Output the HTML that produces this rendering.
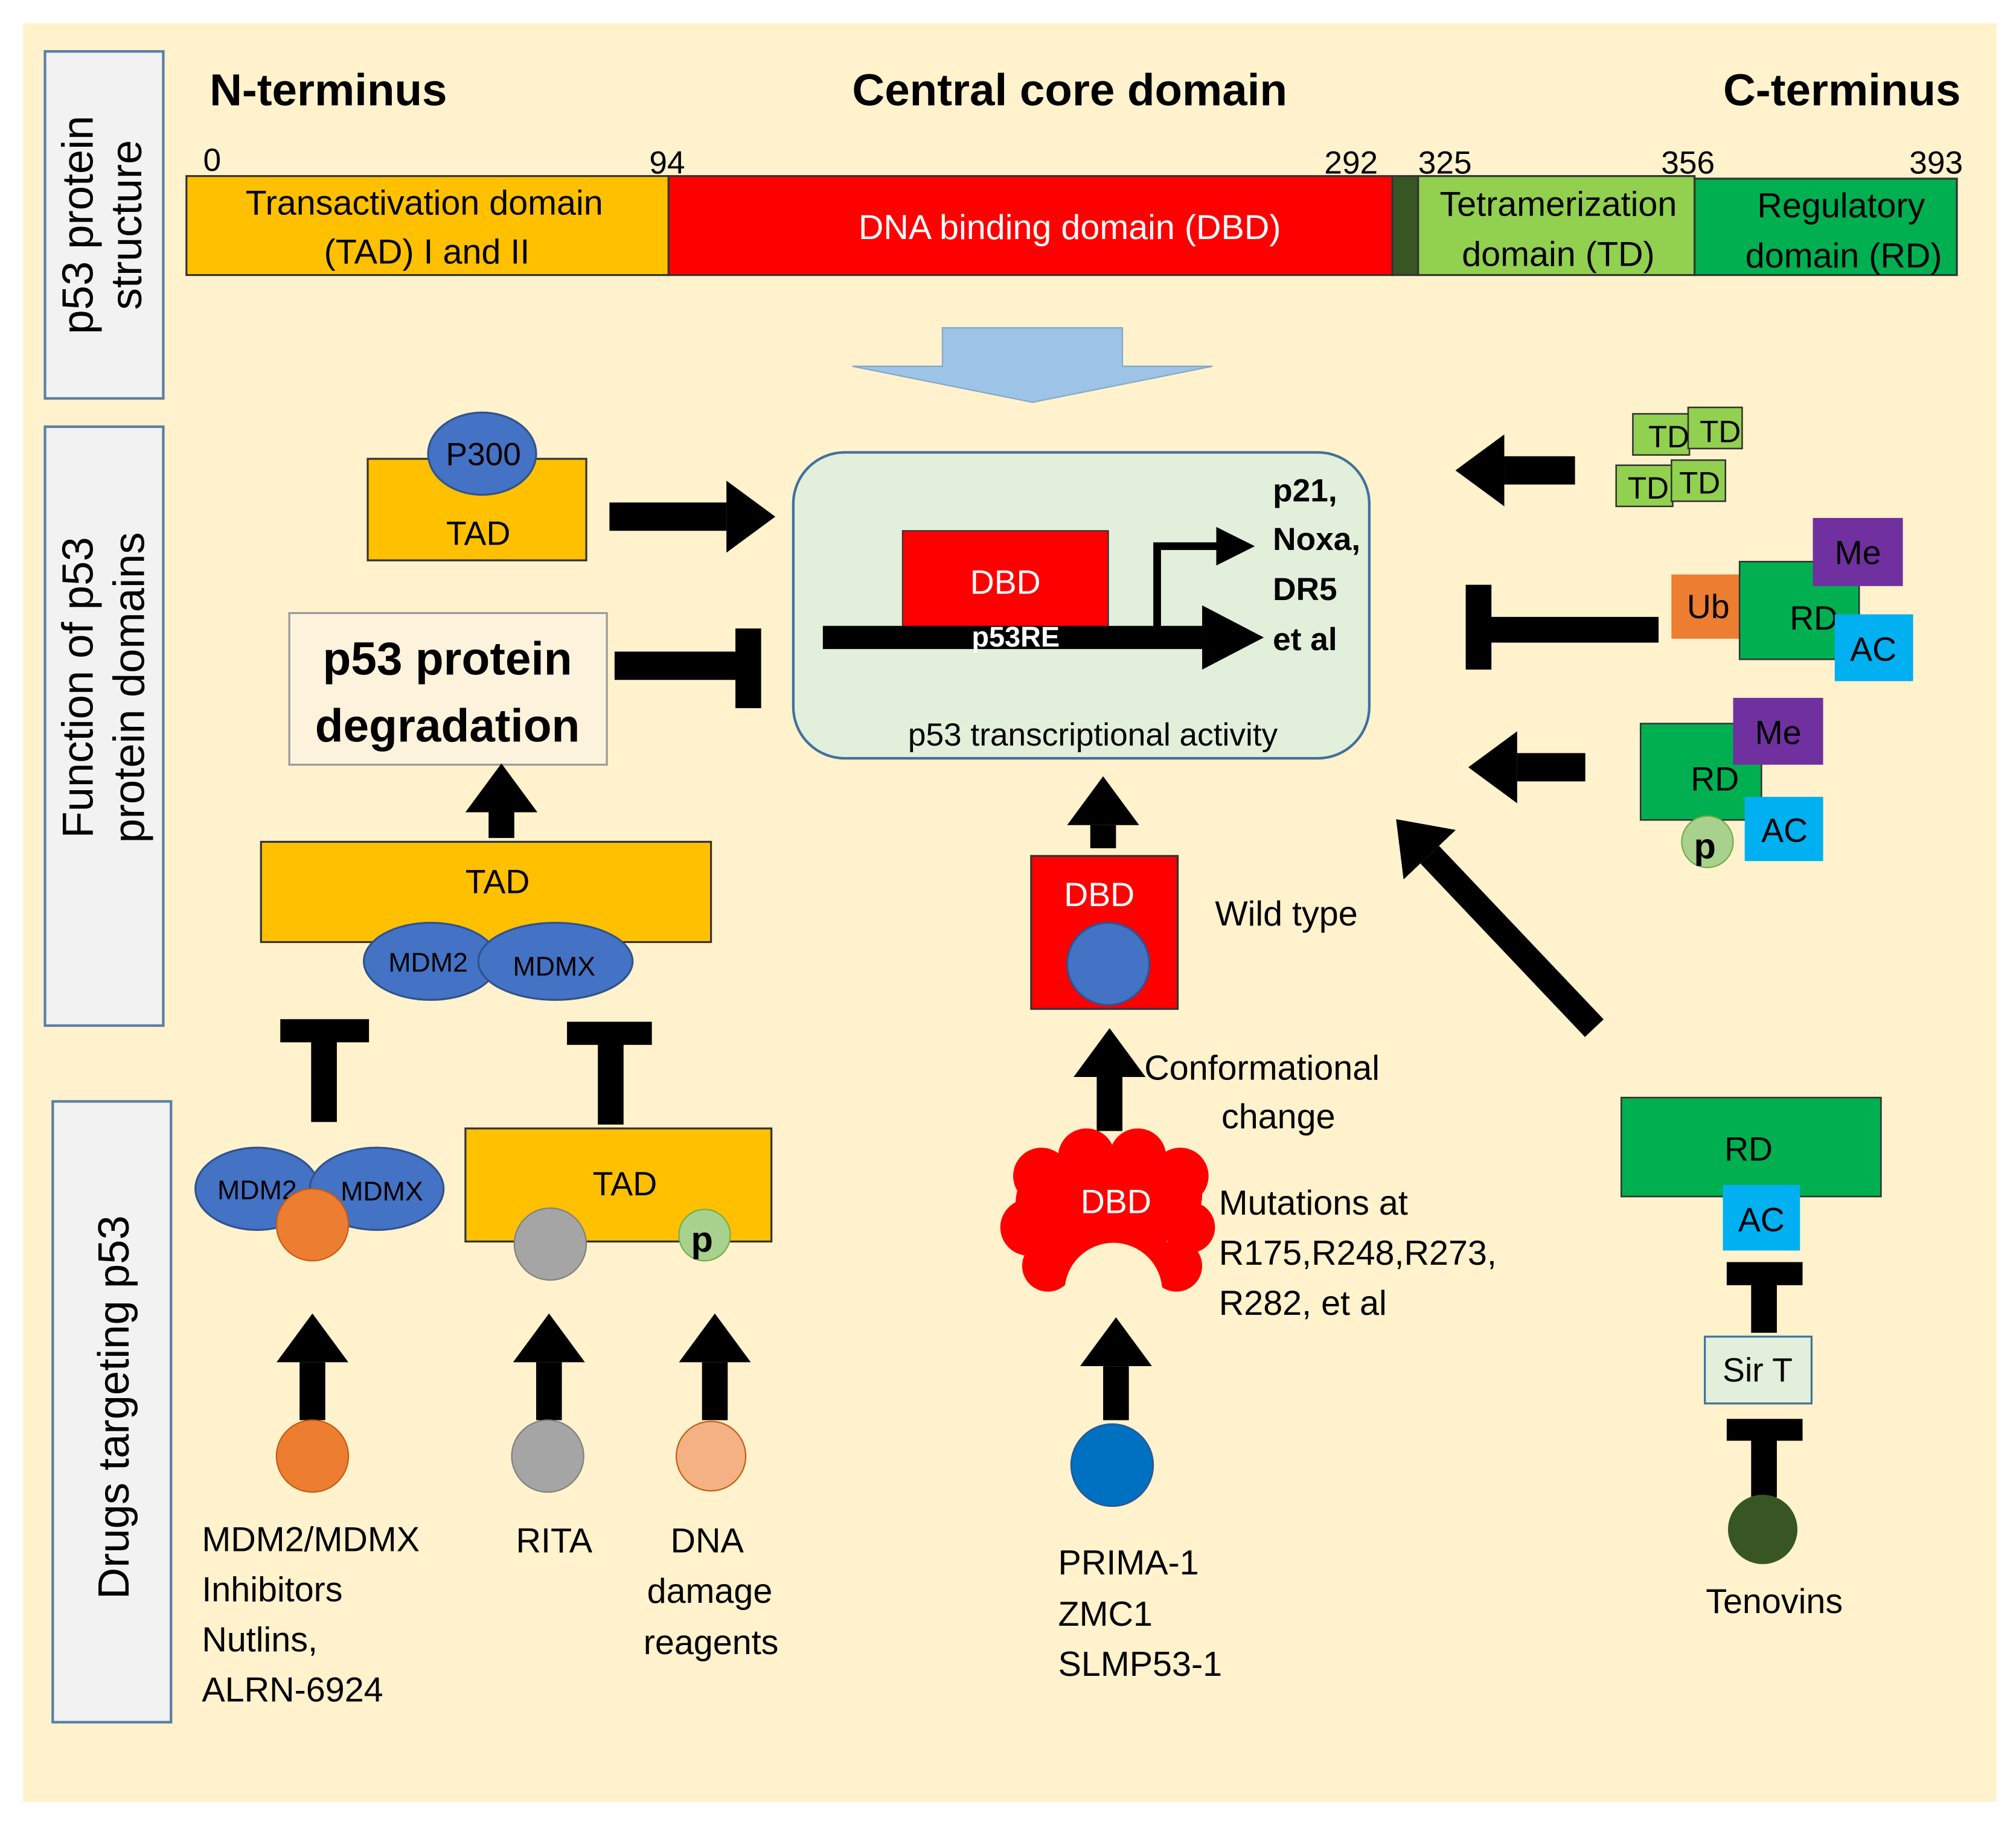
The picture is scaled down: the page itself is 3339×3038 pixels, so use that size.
<!DOCTYPE html>
<html><head><meta charset="utf-8"><style>
html,body{margin:0;padding:0;background:#fff}
svg{display:block}
text{font-family:"Liberation Sans",sans-serif;fill:#000}
</style></head><body>
<svg width="3339" height="3038" viewBox="0 0 1568 1427" preserveAspectRatio="none" xmlns="http://www.w3.org/2000/svg">
<defs>
<marker id="ah" markerUnits="userSpaceOnUse" markerWidth="40" markerHeight="56" refX="0" refY="28" orient="auto"><path d="M0,0 L38,28 L0,56 z" fill="#000"/></marker>
<marker id="ah2" markerUnits="userSpaceOnUse" markerWidth="50" markerHeight="50" refX="0" refY="25" orient="auto"><path d="M0,0 L48,25 L0,50 z" fill="#000"/></marker>
</defs>
<rect x="0" y="0" width="1568" height="1427" fill="#fff"/>
<rect x="18" y="18" width="1535" height="1384" fill="#fff2cc"/>

<!-- left labels -->
<rect x="35" y="40" width="92" height="270" fill="#f2f2f2" stroke="#5b7fa6" stroke-width="2"/>
<text transform="translate(72,175) rotate(-90)" text-anchor="middle" font-size="34">p53 protein</text>
<text transform="translate(110,175) rotate(-90)" text-anchor="middle" font-size="34">structure</text>
<rect x="35" y="332" width="92" height="466" fill="#f2f2f2" stroke="#5b7fa6" stroke-width="2"/>
<text transform="translate(72,535) rotate(-90)" text-anchor="middle" font-size="34">Function of p53</text>
<text transform="translate(112,535) rotate(-90)" text-anchor="middle" font-size="34">protein  domains</text>
<rect x="41" y="857" width="92" height="483" fill="#f2f2f2" stroke="#5b7fa6" stroke-width="2"/>
<text transform="translate(100,1095) rotate(-90)" text-anchor="middle" font-size="34">Drugs targeting p53</text>

<!-- header -->
<text x="163" y="82" font-size="35" font-weight="bold">N-terminus</text>
<text x="832" y="82" font-size="35" font-weight="bold" text-anchor="middle">Central core domain</text>
<text x="1525" y="82" font-size="35" font-weight="bold" text-anchor="end">C-terminus</text>
<g font-size="25">
<text x="158" y="133">0</text><text x="505" y="135">94</text><text x="1030" y="135">292</text>
<text x="1103" y="135">325</text><text x="1292" y="135">356</text><text x="1485" y="135">393</text>
</g>
<rect x="145" y="137" width="375" height="77" fill="#ffc000" stroke="#333" stroke-width="1.5"/>
<rect x="520" y="137" width="563" height="77" fill="#ff0000" stroke="#333" stroke-width="1.5"/>
<rect x="1083" y="137" width="20" height="77" fill="#375623" stroke="#333" stroke-width="1.5"/>
<rect x="1103" y="137" width="215" height="77" fill="#92d050" stroke="#333" stroke-width="1.5"/>
<rect x="1318" y="139" width="204" height="75" fill="#00b050" stroke="#333" stroke-width="1.5"/>
<g font-size="27" text-anchor="middle">
<text x="330" y="167">Transactivation domain</text><text x="332" y="205">(TAD) I and II</text>
<text x="832" y="186" style="fill:#fff">DNA binding domain (DBD)</text>
<text x="1212" y="168">Tetramerization</text><text x="1212" y="207">domain (TD)</text>
<text x="1432" y="169">Regulatory</text><text x="1434" y="208">domain (RD)</text>
</g>
<polygon points="733,255 873,255 873,285 943,285 803,313 663,285 733,285" fill="#9dc3e6" stroke="#7fa7cf" stroke-width="1"/>

<!-- central box -->
<rect x="617" y="352" width="448" height="238" rx="40" fill="#e2efda" stroke="#41719c" stroke-width="2"/>
<rect x="702" y="413" width="160" height="77" fill="#ff0000" stroke="#333" stroke-width="1"/>
<text x="782" y="462" font-size="26" text-anchor="middle" style="fill:#fff">DBD</text>
<line x1="640" y1="496" x2="935" y2="496" stroke="#000" stroke-width="18" marker-end="url(#ah2)"/>
<text x="790" y="503" font-size="22" font-weight="bold" text-anchor="middle" style="fill:#fff">p53RE</text>
<polyline points="900,490 900,425 948,425" fill="none" stroke="#000" stroke-width="6"/>
<polygon points="946,410 976,425 946,440" fill="#000"/>
<g font-size="25" font-weight="bold"><text x="990" y="390">p21,</text><text x="990" y="428">Noxa,</text><text x="990" y="467">DR5</text><text x="990" y="506">et al</text></g>
<text x="850" y="580" font-size="25" text-anchor="middle">p53 transcriptional  activity</text>

<!-- left upper -->
<rect x="286" y="357" width="170" height="79" fill="#ffc000" stroke="#333" stroke-width="1.5"/>
<ellipse cx="375" cy="353" rx="42" ry="32" fill="#4472c4" stroke="#2f528f" stroke-width="1.5"/>
<text x="376" y="362" font-size="25" text-anchor="middle">P300</text>
<text x="372" y="424" font-size="26" text-anchor="middle">TAD</text>
<line x1="474" y1="402" x2="565" y2="402" stroke="#000" stroke-width="22" marker-end="url(#ah)"/>
<rect x="225" y="477" width="247" height="118" fill="#fdf3dd" stroke="#999" stroke-width="1.5"/>
<text x="348" y="525" font-size="36" font-weight="bold" text-anchor="middle">p53 protein</text>
<text x="348" y="577" font-size="36" font-weight="bold" text-anchor="middle">degradation</text>
<line x1="478" y1="518" x2="575" y2="518" stroke="#000" stroke-width="22"/>
<rect x="572" y="489" width="20" height="62" fill="#000"/>
<line x1="390" y1="652" x2="390" y2="632" stroke="#000" stroke-width="20" marker-end="url(#ah)"/>
<rect x="203" y="655" width="350" height="78" fill="#ffc000" stroke="#333" stroke-width="1.5"/>
<text x="387" y="695" font-size="26" text-anchor="middle">TAD</text>
<ellipse cx="335" cy="748" rx="52" ry="30" fill="#4472c4" stroke="#2f528f" stroke-width="1.5"/>
<ellipse cx="432" cy="748" rx="60" ry="30" fill="#4472c4" stroke="#2f528f" stroke-width="1.5"/>
<text x="333" y="756" font-size="21" text-anchor="middle">MDM2</text>
<text x="431" y="759" font-size="21" text-anchor="middle">MDMX</text>

<!-- T bars -->
<rect x="218" y="793" width="69" height="18" fill="#000"/><rect x="242" y="810" width="20" height="63" fill="#000"/>
<rect x="441" y="795" width="66" height="18" fill="#000"/><rect x="465" y="812" width="20" height="63" fill="#000"/>

<ellipse cx="200" cy="925" rx="48" ry="32" fill="#4472c4" stroke="#2f528f" stroke-width="1.5"/>
<ellipse cx="293" cy="925" rx="52" ry="32" fill="#4472c4" stroke="#2f528f" stroke-width="1.5"/>
<text x="200" y="933" font-size="21" text-anchor="middle">MDM2</text>
<text x="297" y="934" font-size="21" text-anchor="middle">MDMX</text>
<circle cx="243" cy="953" r="28" fill="#ed7d31" stroke="#c55a11" stroke-width="1"/>
<rect x="362" y="878" width="238" height="88" fill="#ffc000" stroke="#333" stroke-width="1.5"/>
<text x="486" y="930" font-size="26" text-anchor="middle">TAD</text>
<circle cx="428" cy="968" r="28" fill="#a5a5a5" stroke="#7f7f7f" stroke-width="1"/>
<circle cx="548" cy="961" r="20" fill="#a9d18e" stroke="#70ad47" stroke-width="1"/>
<text x="546" y="974" font-size="28" font-weight="bold" text-anchor="middle">p</text>

<line x1="243" y1="1105" x2="243" y2="1060" stroke="#000" stroke-width="20" marker-end="url(#ah)"/>
<line x1="427" y1="1105" x2="427" y2="1060" stroke="#000" stroke-width="20" marker-end="url(#ah)"/>
<line x1="556" y1="1105" x2="556" y2="1060" stroke="#000" stroke-width="20" marker-end="url(#ah)"/>
<circle cx="243" cy="1133" r="28" fill="#ed7d31" stroke="#c55a11" stroke-width="1"/>
<circle cx="426" cy="1133" r="28" fill="#a5a5a5" stroke="#7f7f7f" stroke-width="1"/>
<circle cx="553" cy="1133" r="27" fill="#f4b183" stroke="#c55a11" stroke-width="1"/>
<g font-size="27">
<text x="157" y="1207">MDM2/MDMX</text><text x="157" y="1246">Inhibitors</text><text x="157" y="1285">Nutlins,</text><text x="157" y="1324">ALRN-6924</text>
<text x="431" y="1208" text-anchor="middle">RITA</text>
<text x="550" y="1208" text-anchor="middle">DNA</text><text x="552" y="1247" text-anchor="middle">damage</text><text x="553" y="1287" text-anchor="middle">reagents</text>
</g>

<!-- middle -->
<line x1="858" y1="660" x2="858" y2="642" stroke="#000" stroke-width="20" marker-end="url(#ah)"/>
<rect x="802" y="666" width="114" height="119" fill="#ff0000" stroke="#333" stroke-width="1.5"/>
<text x="855" y="705" font-size="26" text-anchor="middle" style="fill:#fff">DBD</text>
<circle cx="862" cy="750" r="32" fill="#4472c4" stroke="#2f528f" stroke-width="1.5"/>
<text x="945" y="720" font-size="27">Wild type</text>
<line x1="863" y1="880" x2="863" y2="838" stroke="#000" stroke-width="20" marker-end="url(#ah)"/>
<text x="890" y="840" font-size="27">Conformational</text>
<text x="950" y="878" font-size="27">change</text>
<g fill="#ff0000">
<circle cx="860" cy="945" r="52"/>
<circle cx="810" cy="915" r="22"/><circle cx="845" cy="900" r="22"/><circle cx="885" cy="900" r="22"/><circle cx="918" cy="915" r="22"/>
<circle cx="800" cy="955" r="22"/><circle cx="925" cy="955" r="20"/><circle cx="815" cy="985" r="20"/><circle cx="915" cy="985" r="20"/>
<circle cx="905" cy="930" r="30"/><circle cx="820" cy="935" r="30"/>
</g>
<circle cx="866" cy="1005" r="38" fill="#fff2cc"/>
<text x="868" y="944" font-size="26" text-anchor="middle" style="fill:#fff">DBD</text>
<g font-size="27"><text x="948" y="945">Mutations at</text><text x="948" y="984">R175,R248,R273,</text><text x="948" y="1023">R282, et al</text></g>
<line x1="868" y1="1105" x2="868" y2="1063" stroke="#000" stroke-width="20" marker-end="url(#ah)"/>
<circle cx="865" cy="1140" r="32" fill="#0070c0" stroke="#2f528f" stroke-width="1"/>
<g font-size="27"><text x="823" y="1225">PRIMA-1</text><text x="823" y="1265">ZMC1</text><text x="823" y="1304">SLMP53-1</text></g>

<!-- right -->
<g fill="#92d050" stroke="#333" stroke-width="1.2" font-size="24">
<rect x="1270" y="322" width="44" height="32"/><rect x="1313" y="317" width="42" height="32"/>
<rect x="1257" y="362" width="44" height="32"/><rect x="1300" y="358" width="42" height="32"/>
</g>
<g font-size="24"><text x="1282" y="348">TD</text><text x="1322" y="344">TD</text><text x="1266" y="388">TD</text><text x="1306" y="384">TD</text></g>
<line x1="1225" y1="366" x2="1170" y2="366" stroke="#000" stroke-width="22" marker-end="url(#ah)"/>
<line x1="1290" y1="490" x2="1155" y2="490" stroke="#000" stroke-width="20"/>
<rect x="1140" y="455" width="20" height="66" fill="#000"/>
<rect x="1300" y="447" width="62" height="50" fill="#ed7d31"/>
<text x="1312" y="481" font-size="26">Ub</text>
<rect x="1353" y="437" width="93" height="76" fill="#00b050" stroke="#333" stroke-width="1.2"/>
<text x="1392" y="490" font-size="26">RD</text>
<rect x="1410" y="403" width="70" height="53" fill="#7030a0"/>
<text x="1445" y="439" font-size="26" text-anchor="middle">Me</text>
<rect x="1427" y="478" width="61" height="52" fill="#00b0f0"/>
<text x="1457" y="514" font-size="26" text-anchor="middle">AC</text>

<line x1="1233" y1="597" x2="1180" y2="597" stroke="#000" stroke-width="22" marker-end="url(#ah)"/>
<rect x="1276" y="563" width="94" height="75" fill="#00b050" stroke="#333" stroke-width="1.2"/>
<text x="1315" y="615" font-size="26">RD</text>
<rect x="1348" y="543" width="70" height="52" fill="#7030a0"/>
<text x="1383" y="579" font-size="26" text-anchor="middle">Me</text>
<rect x="1357" y="620" width="61" height="50" fill="#00b0f0"/>
<text x="1388" y="655" font-size="26" text-anchor="middle">AC</text>
<circle cx="1328" cy="655" r="20" fill="#a9d18e" stroke="#70ad47" stroke-width="1"/>
<text x="1326" y="668" font-size="28" font-weight="bold" text-anchor="middle">p</text>

<line x1="1240" y1="800" x2="1112" y2="665" stroke="#000" stroke-width="20" marker-end="url(#ah)"/>

<rect x="1261" y="854" width="202" height="77" fill="#00b050" stroke="#333" stroke-width="1.2"/>
<text x="1360" y="903" font-size="26" text-anchor="middle">RD</text>
<rect x="1340" y="922" width="60" height="51" fill="#00b0f0"/>
<text x="1370" y="958" font-size="26" text-anchor="middle">AC</text>
<rect x="1343" y="982" width="59" height="18" fill="#000"/><rect x="1362" y="999" width="20" height="38" fill="#000"/>
<rect x="1326" y="1040" width="83" height="52" fill="#e2efda" stroke="#41719c" stroke-width="1.5"/>
<text x="1367" y="1075" font-size="26" text-anchor="middle">Sir T</text>
<rect x="1343" y="1104" width="59" height="17" fill="#000"/><rect x="1362" y="1120" width="20" height="45" fill="#000"/>
<circle cx="1371" cy="1190" r="27" fill="#375623"/>
<text x="1380" y="1255" font-size="27" text-anchor="middle">Tenovins</text>
</svg>
</body></html>
